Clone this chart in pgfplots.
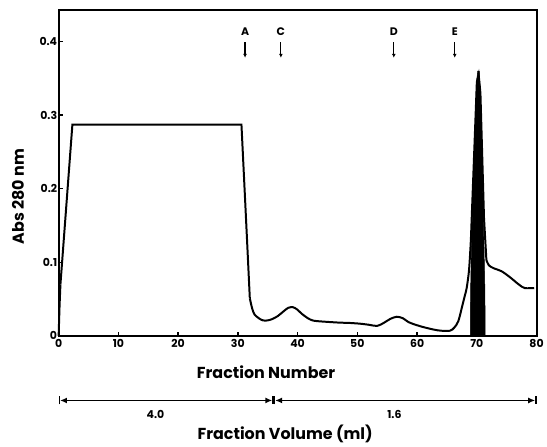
\documentclass[border=0pt]{standalone}
\usepackage{fontspec}
\setmainfont{Poppins}
\usepackage{pgfplots}
\pgfplotsset{compat=1.18}
\usetikzlibrary{arrows.meta}
\begin{document}
\begin{tikzpicture}
\begin{axis}[
    scale only axis,
    width=481pt, height=328pt,
    xmin=0, xmax=80, ymin=0, ymax=0.443,
    xtick={0,10,...,80},
    ytick={0,0.1,0.2,0.3,0.4},
    yticklabels={0,0.1,0.2,0.3,0.4},
    tick align=inside,
    xtick pos=bottom, ytick pos=left,
    major tick length=4pt,
    tick style={line width=1.4pt, black},
    axis line style={line width=2pt},
    ticklabel style={font=\bfseries\fontsize{11}{12}\selectfont},
    yticklabel style={xshift=2pt},
    /pgf/number format/assume math mode=true,
    xlabel={Fraction Number},
    ylabel={Abs 280 nm},
    label style={font=\bfseries\fontsize{16}{18}\selectfont},
    xlabel style={at={(rel axis cs:0.434,-0.113)}, anchor=center},
    ylabel style={at={(rel axis cs:-0.085,0.427)}, anchor=center},
    clip=false,
]
% main trace
\addplot[black, line width=2pt, smooth, tension=0.3] coordinates {
(0,0) (0.15,0.04) (0.3,0.07)};
\addplot[black, line width=2pt] coordinates {
(0.3,0.07) (2.3,0.287) (30.6,0.287) (31.3,0.17) (32.0,0.051)};
\addplot[black, line width=2pt, smooth, tension=0.5] coordinates {
(32.0,0.051) (32.4,0.037) (32.8,0.029) (33.5,0.024) (34.2,0.021) (35.0,0.021)
(35.8,0.023) (36.7,0.027) (37.6,0.033) (38.4,0.038) (39.2,0.039) (39.9,0.036)
(40.7,0.030) (41.7,0.024) (42.5,0.021) (43.3,0.020) (45,0.019) (47,0.018)
(48.8,0.0175) (50.5,0.0165) (52,0.015) (53.3,0.0135) (54.4,0.0175) (55.5,0.023)
(56.6,0.026) (57.6,0.024) (58.5,0.019) (59.4,0.016) (61,0.012) (62.8,0.0085)
(64,0.007) (65.5,0.007) (66.2,0.011) (66.9,0.02) (67.6,0.042) (68.0,0.055)
(68.3,0.065) (68.7,0.09) (69.0,0.13)};
\addplot[black, line width=2pt] coordinates {
(69.0,0.13) (69.7,0.28) (70.0,0.345) (70.3,0.355) (70.6,0.33) (71.2,0.16) (71.6,0.103)};
\addplot[black, line width=2pt, smooth, tension=0.5] coordinates {
(71.6,0.103) (72.0,0.096) (72.8,0.092) (74.1,0.088) (75.5,0.080)
(77,0.070) (78,0.065) (79.6,0.065)};
% filled peak
\addplot[fill=black, draw=black, line width=0.5pt] coordinates {
(68.9,0) (68.95,0.06) (69.1,0.12) (69.4,0.2) (69.7,0.28) (69.95,0.345)
(70.15,0.36) (70.4,0.36) (70.6,0.33) (70.8,0.26) (71.0,0.19) (71.2,0.12)
(71.35,0.06) (71.4,0)} -- cycle;
% markers A C D E
\node[font=\bfseries\fontsize{11}{12}\selectfont] at (axis cs:31.2,0.413) {A};
\draw[line width=1.2pt, -{Latex[length=4pt,width=4pt]}] (axis cs:31.2,0.399) -- (axis cs:31.2,0.378);
\node[font=\bfseries\fontsize{11}{12}\selectfont] at (axis cs:37.2,0.413) {C};
\draw[line width=1.2pt, -{Latex[length=4pt,width=4pt]}] (axis cs:37.2,0.399) -- (axis cs:37.2,0.378);
\node[font=\bfseries\fontsize{11}{12}\selectfont] at (axis cs:56.1,0.413) {D};
\draw[line width=1.2pt, -{Latex[length=4pt,width=4pt]}] (axis cs:56.1,0.399) -- (axis cs:56.1,0.378);
\node[font=\bfseries\fontsize{11}{12}\selectfont] at (axis cs:66.3,0.413) {E};
\draw[line width=1.2pt, -{Latex[length=4pt,width=4pt]}] (axis cs:66.3,0.399) -- (axis cs:66.3,0.378);
% fraction volume bar
\draw[line width=1.4pt, {Bar[width=8pt].Latex[length=7pt,width=6pt]}-{Latex[length=7pt,width=6pt].Bar[width=8pt]}]
  (axis cs:0,-0.0878) -- (axis cs:36,-0.0878);
\draw[line width=1.4pt, {Bar[width=8pt].Latex[length=7pt,width=6pt]}-{Latex[length=7pt,width=6pt].Bar[width=8pt]}]
  (axis cs:36,-0.0878) -- (axis cs:80,-0.0878);
\node[font=\bfseries\fontsize{11}{12}\selectfont] at (axis cs:16.2,-0.107) {4.0};
\node[font=\bfseries\fontsize{11}{12}\selectfont] at (axis cs:56.2,-0.107) {1.6};
\node[font=\bfseries\fontsize{16}{18}\selectfont] at (rel axis cs:0.474,-0.302) {Fraction Volume (ml)};
% page frame
\path (rel axis cs:-0.1227,-0.329) rectangle (rel axis cs:1.0146,1.0305);
\end{axis}
\end{tikzpicture}
\end{document}
